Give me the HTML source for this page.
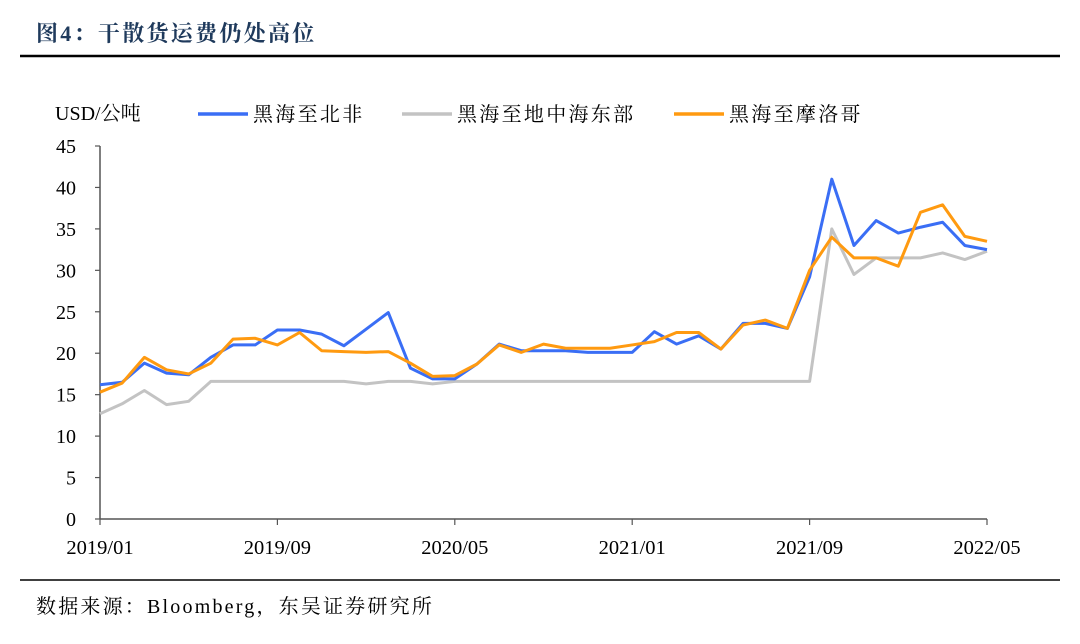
<!DOCTYPE html>
<html><head><meta charset="utf-8"><style>
body{margin:0;background:#fff;}
svg text{font-family:"Liberation Serif","Noto Serif CJK SC",serif;}
</style></head><body>
<svg width="1080" height="639" viewBox="0 0 1080 639" xmlns="http://www.w3.org/2000/svg">
<text x="36" y="41" font-size="22" font-weight="bold" letter-spacing="2.3" fill="#1f3a5c">图4：干散货运费仍处高位</text>
<line x1="20" y1="56" x2="1060" y2="56" stroke="#000" stroke-width="2.5"/>
<line x1="20" y1="580" x2="1060" y2="580" stroke="#000" stroke-width="1.5"/>
<text x="36" y="613" font-size="20" letter-spacing="2.2" fill="#000">数据来源：Bloomberg，东吴证券研究所</text>
<text x="55" y="120" font-size="20" fill="#000">USD/公吨</text>
<g id="legend">
<line x1="198" y1="114" x2="248" y2="114" stroke="#3a6ef5" stroke-width="3.5"/>
<text x="253" y="121" font-size="20" letter-spacing="2.3">黑海至北非</text>
<line x1="402" y1="114" x2="452" y2="114" stroke="#c3c3c3" stroke-width="3.5"/>
<text x="457" y="121" font-size="20" letter-spacing="2.3">黑海至地中海东部</text>
<line x1="674" y1="114" x2="724" y2="114" stroke="#ff9a10" stroke-width="3.5"/>
<text x="729" y="121" font-size="20" letter-spacing="2.3">黑海至摩洛哥</text>
</g>
<g id="axes"></g>
<g id="series"></g>
</svg>
<script>
const xLabels=["2019/01","2019/09","2020/05","2021/01","2021/09","2022/05"];
const yTicks=[0,5,10,15,20,25,30,35,40,45];
const northAfrica=[16.2,16.5,18.8,17.6,17.4,19.5,21.0,21.0,22.8,22.8,22.3,20.9,22.9,24.9,18.2,16.9,16.9,18.7,21.1,20.3,20.3,20.3,20.1,20.1,20.1,22.6,21.1,22.1,20.5,23.6,23.6,23.0,29.2,41.0,33.0,36.0,34.5,35.2,35.8,33.0,32.5];
const eastMed=[12.7,13.9,15.5,13.8,14.2,16.6,16.6,16.6,16.6,16.6,16.6,16.6,16.3,16.6,16.6,16.3,16.6,16.6,16.6,16.6,16.6,16.6,16.6,16.6,16.6,16.6,16.6,16.6,16.6,16.6,16.6,16.6,16.6,35.0,29.5,31.5,31.5,31.5,32.1,31.3,32.3];
const morocco=[15.3,16.4,19.5,18.0,17.5,18.8,21.7,21.8,21.0,22.5,20.3,20.2,20.1,20.2,18.8,17.2,17.3,18.7,21.0,20.1,21.1,20.6,20.6,20.6,21.0,21.4,22.5,22.5,20.5,23.4,24.0,23.0,30.0,34.0,31.5,31.5,30.5,37.0,37.9,34.1,33.5];
const NS="http://www.w3.org/2000/svg";
const x0=100,x1=987,y0=519,y1=146,nMonths=40;
const xs=i=>x0+(x1-x0)*i/nMonths;
const ys=v=>y0-(y0-y1)*v/45;
const axes=document.getElementById('axes');
function mk(tag,attrs,parent){const e=document.createElementNS(NS,tag);for(const k in attrs)e.setAttribute(k,attrs[k]);parent.appendChild(e);return e;}
const ya=mk('line',{x1:x0,y1:y1,x2:x0,y2:y0,stroke:'#555','stroke-width':1.5},axes);


const xa=mk('line',{x1:x0,y1:y0,x2:x1,y2:y0,stroke:'#555','stroke-width':1.5},axes);


yTicks.forEach(v=>{
 const t=mk('line',{x1:x0-5,y1:ys(v),x2:x0,y2:ys(v),stroke:'#555','stroke-width':1.2},axes);
 
 
 const l=mk('text',{x:x0-24,y:ys(v)+7,'font-size':20,'text-anchor':'end'},axes);
 l.textContent=v;
 
 
});
for(let i=0;i<=nMonths;i++){
 const t=mk('line',{x1:xs(i),y1:y0,x2:xs(i),y2:y0+(i%8===0?6:0),stroke:'#555','stroke-width':1.2},axes);
 
 
}
xLabels.forEach((s,k)=>{
 const l=mk('text',{x:xs(k*8),y:554,'font-size':20.5,'text-anchor':'middle'},axes);
 l.textContent=s;
 
 
});
const ser=document.getElementById('series');
[[eastMed,'#c3c3c3','line-east-med'],[northAfrica,'#3a6ef5','line-north-africa'],[morocco,'#ff9a10','line-morocco']].forEach(([d,c,n])=>{
 const p=mk('polyline',{points:d.map((v,i)=>xs(i)+','+ys(v)).join(' '),fill:'none',stroke:c,'stroke-width':3,'stroke-linejoin':'round'},ser);
 
 
});
</script>
</body></html>
